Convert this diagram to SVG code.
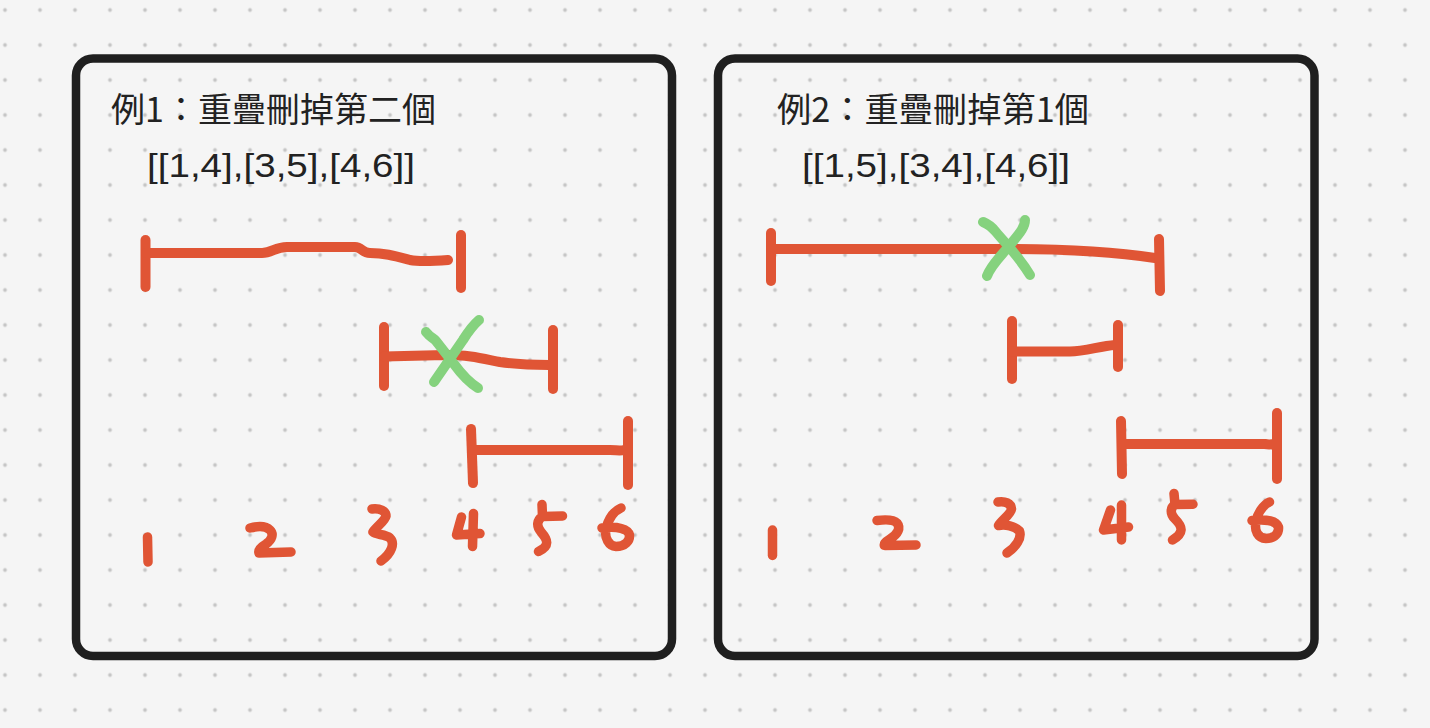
<svg xmlns="http://www.w3.org/2000/svg" width="1430" height="728" viewBox="0 0 1430 728">
  <defs>
    <pattern id="dots" x="-12.5" y="-7.5" width="35" height="35" patternUnits="userSpaceOnUse">
      <circle cx="17.5" cy="17.5" r="1.9" fill="#c6c6c6"/>
    </pattern>
    <style>
      .frame { fill: none; stroke: #1f1f1f; stroke-width: 8.5; }
      .title { font-family: "Noto Sans CJK TC", "Noto Sans CJK SC", "Noto Sans", sans-serif; font-size: 34px; fill: #222222; }
      .arr { font-family: "Liberation Sans", "Noto Sans", sans-serif; font-size: 33px; fill: #222222; }
      .red { fill: none; stroke: #e05535; stroke-width: 10; stroke-linecap: round; stroke-linejoin: round; }
      .num { fill: none; stroke: #e05535; stroke-width: 9.5; stroke-linecap: round; stroke-linejoin: round; }
      .green { fill: none; stroke: #85d27e; stroke-width: 10; stroke-linecap: round; stroke-linejoin: round; }
    </style>
  </defs>

  <rect width="1430" height="728" fill="#f5f5f5"/>
  <rect width="1430" height="728" fill="url(#dots)"/>

  <g id="example1">
    <rect class="frame" x="76" y="58.5" width="596" height="597.5" rx="17"/>
    <text class="title" x="111" y="121.5" textLength="325" lengthAdjust="spacingAndGlyphs">例1：重疊刪掉第二個</text>
    <text class="arr" x="147" y="176.5" textLength="268" lengthAdjust="spacingAndGlyphs">[[1,4],[3,5],[4,6]]</text>
    <g id="ex1-interval-1-4">
      <path class="red" d="M145.5 240 L145.5 287"/>
      <path class="red" d="M146 253 L262 253 C272 253 275 247 287 247 L355 247 C362 247 362 253 370 253 C385 253 395 256 410 260 C420 262 435 261 448 260"/>
      <path class="red" d="M461 235 L461 288"/>
    </g>
    <g id="ex1-interval-3-5">
      <path class="red" d="M384 327 L384 386"/>
      <path class="red" d="M384 356.5 L445 355 C470 355 480 358 500 362 C520 365 535 365 549 365"/>
      <path class="red" d="M553 330 L553 389"/>
      <path class="green" d="M426 332 C430 337 433 338 436 341 L454 364 C462 375 470 383 478 388"/>
      <path class="green" d="M479 320 C472 326 468 332 463 340 L434 382"/>
    </g>
    <g id="ex1-interval-4-6">
      <path class="red" d="M471 429 L473 483"/>
      <path class="red" d="M473 450 L610 450 C616 450 620 451 624 450"/>
      <path class="red" d="M628 421 L628 485"/>
    </g>
    <g id="ex1-axis">
      <path class="num" d="M147.5 537 L148 562"/>
      <path class="num" d="M250 528 C258 526 266 526 270 530 C274 534 272 540 266 544 C261 547 258 550 259 553 L291 552"/>
      <path class="num" d="M372 509 C380 508 386 511 386 516 C385 521 376 527 373 532 C376 535 385 534 390 538 C395 543 392 553 381 561"/>
      <path class="num" d="M461.5 517 L456.5 535 L480 533.5 M473.5 513.5 L472.5 546.5"/>
      <path class="num" d="M542 504.5 L542.5 516.5 L562.5 516 M542.5 516.5 C537 520 536 526 541 532 C548 540 550 546 538.5 551.5"/>
      <path class="num" d="M621 508 C614 511 609 518 606 528 C604 538 609 546 616 546.5 C625 546.5 630 541 629.5 535 C628 529 618 526 602 528"/>
    </g>
  </g>

  <g id="example2">
    <rect class="frame" x="718" y="58.5" width="596.5" height="597.5" rx="17"/>
    <text class="title" x="777" y="121.5" textLength="312" lengthAdjust="spacingAndGlyphs">例2：重疊刪掉第1個</text>
    <text class="arr" x="802" y="176.5" textLength="268" lengthAdjust="spacingAndGlyphs">[[1,5],[3,4],[4,6]]</text>
    <g id="ex2-interval-1-5">
      <path class="red" d="M771 233 L771 281"/>
      <path class="red" d="M771 249 L1010 249 C1060 249 1110 251 1155 258"/>
      <path class="red" d="M1159 239 L1160 291"/>
      <path class="green" d="M983 222 C988 224 992 227 996 232 C1005 243 1018 255 1030 275"/>
      <path class="green" d="M1025 220 C1025 228 1018 235 1010 245 C1000 257 991 265 987 276"/>
    </g>
    <g id="ex2-interval-3-4">
      <path class="red" d="M1012 321 L1012 379"/>
      <path class="red" d="M1012 351.5 L1070 351.5 C1085 351.5 1100 346 1115 345"/>
      <path class="red" d="M1118 325 L1118 367"/>
    </g>
    <g id="ex2-interval-4-6">
      <path class="red" d="M1121 421 L1122 474"/>
      <path class="red" d="M1122 444 L1265 444 C1270 445 1272 444 1275 444"/>
      <path class="red" d="M1277 413 L1277 479"/>
    </g>
    <g id="ex2-axis">
      <path class="num" d="M772.5 530 L772.5 555.5"/>
      <path class="num" d="M877 520.5 C885 519.5 893 519 897 523 C901 528 898 534 890 539 C885 542 883 545 885 545.5 L916 545"/>
      <path class="num" d="M998 502 C1005 501 1011 503 1011.5 509 C1011 514 1001 521 998.5 525.5 C1005 524 1015 526 1019.5 531 C1022 538 1016 547 1007 553"/>
      <path class="num" d="M1110.5 510 L1103.5 530 L1128.5 527 M1121.5 505 L1121.5 540"/>
      <path class="num" d="M1174 493.5 L1175 504.5 L1193 504.3 M1175 504.5 C1170 508 1170 514 1175 519 C1183 527 1184 533 1172.5 540"/>
      <path class="num" d="M1269.5 502 C1263 505 1258 513 1256 521 C1254 531 1258 538 1266 538.5 C1275 538.5 1279 533 1278.5 527 C1276 521 1268 519 1252 520.5"/>
    </g>
  </g>
</svg>
